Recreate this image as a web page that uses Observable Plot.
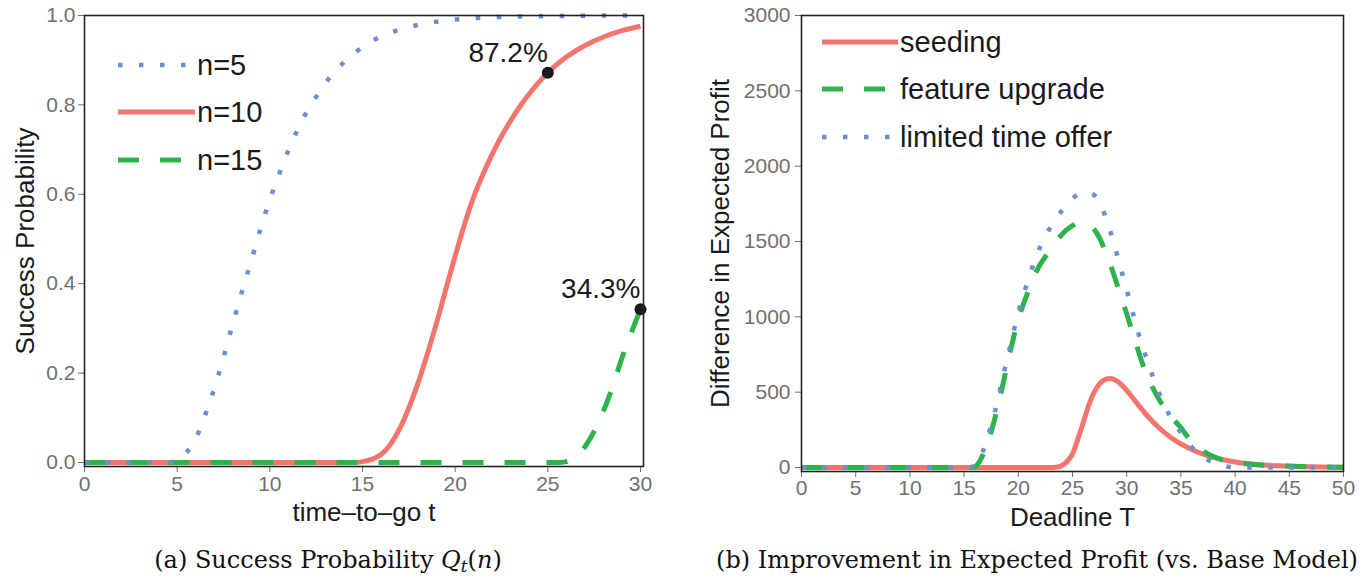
<!DOCTYPE html>
<html><head><meta charset="utf-8">
<script src="https://cdn.jsdelivr.net/npm/d3@7"></script>
<script src="https://cdn.jsdelivr.net/npm/@observablehq/plot@0.6"></script>
<style>
body{margin:0;background:#fff;}
#wrap{position:relative;width:1370px;height:585px;overflow:hidden;font-family:"Liberation Sans",Arial,sans-serif;}
.panel{position:absolute;top:0;}
.overlay{position:absolute;left:0;top:0;pointer-events:none;}
.caption{position:absolute;font-family:"DejaVu Serif",serif;font-size:24px;line-height:1;color:#111;white-space:nowrap;transform:translateX(-50%);}
.caption sub{font-size:0.7em;vertical-align:-0.25em;line-height:0;}
</style></head><body><div id="wrap"></div>
<script>
// ---------- Panel (a): success probability Q_t(n) ----------
const tN5  = [0, 4.5, 5, 5.5, 6, 6.5, 7, 7.5, 8, 8.5, 9, 9.5, 10, 10.5, 11, 11.5, 12, 12.5, 13, 13.5, 14, 15, 16, 17, 18, 19, 20, 21, 22, 24, 26, 28, 30];
const qN5  = [0, 0, 0.006, 0.022, 0.053, 0.105, 0.165, 0.235, 0.31, 0.383, 0.452, 0.523, 0.588, 0.645, 0.698, 0.745, 0.785, 0.818, 0.849, 0.873, 0.896, 0.929, 0.953, 0.968, 0.979, 0.986, 0.991, 0.994, 0.996, 0.998, 0.999, 1.0, 1.0];
const tN10 = [0, 14.5, 15, 15.5, 16, 16.5, 17, 17.5, 18, 18.5, 19, 19.5, 20, 20.5, 21, 21.5, 22, 22.5, 23, 23.5, 24, 24.5, 25, 25.5, 26, 27, 28, 29, 30];
const qN10 = [0, 0, 0.002, 0.007, 0.018, 0.04, 0.075, 0.122, 0.178, 0.243, 0.313, 0.388, 0.462, 0.532, 0.594, 0.645, 0.69, 0.73, 0.765, 0.797, 0.825, 0.85, 0.872, 0.891, 0.907, 0.933, 0.952, 0.966, 0.976];
const tN15 = [0, 25.5, 26, 26.5, 27, 27.5, 28, 28.5, 29, 29.5, 30];
const qN15 = [0, 0, 0.002, 0.012, 0.035, 0.07, 0.115, 0.17, 0.234, 0.29, 0.343];
const annotT = [25, 30];
const annotQ = [0.872, 0.343];
const leftNames = ["n=5", "n=10", "n=15"];
const leftTicksX = [0, 5, 10, 15, 20, 25, 30];
const leftTicksY = [0, 0.2, 0.4, 0.6, 0.8, 1.0];
const leftXTitle = "time\u2013to\u2013go t";
const leftYTitle = "Success Probability";

// ---------- Panel (b): improvement in expected profit ----------
const tSeed = [0, 23, 23.5, 24, 24.5, 25, 25.5, 26, 26.5, 27, 27.5, 28, 28.5, 29, 29.5, 30, 30.5, 31, 32, 33, 34, 35, 36, 37, 38, 39, 40, 42, 44, 46, 48, 50];
const vSeed = [0, 0, 2, 12, 40, 90, 190, 300, 415, 500, 555, 583, 590, 578, 550, 512, 468, 422, 335, 262, 203, 157, 120, 90, 67, 50, 37, 20, 11, 6, 3, 2];
const tFeat = [0, 15.5, 16, 16.5, 17, 17.5, 18, 18.5, 19, 19.5, 20, 20.5, 21, 21.5, 22, 22.5, 23, 23.5, 24, 24.5, 25, 25.5, 26, 26.5, 27, 27.5, 28, 28.5, 29, 29.5, 30, 30.5, 31, 31.5, 32, 32.5, 33, 33.5, 34, 34.5, 35, 35.5, 36, 36.5, 37, 37.5, 38, 38.5, 39, 40, 41, 42, 44, 46, 48, 50];
const vFeat = [0, 0, 5, 50, 130, 240, 370, 525, 690, 844, 985, 1090, 1185, 1275, 1345, 1400, 1455, 1505, 1545, 1580, 1605, 1622, 1625, 1610, 1580, 1522, 1440, 1345, 1240, 1130, 1020, 905, 790, 680, 590, 515, 450, 395, 350, 305, 265, 215, 175, 140, 112, 90, 72, 58, 47, 33, 25, 19, 11, 6, 3, 2];
const tLto  = [0, 15.5, 16, 16.5, 17, 17.5, 18, 18.5, 19, 19.5, 20, 20.5, 21, 21.5, 22, 22.5, 23, 23.5, 24, 24.5, 25, 25.5, 26, 26.5, 27, 27.5, 28, 28.5, 29, 29.5, 30, 30.5, 31, 31.5, 32, 32.5, 33, 33.5, 34, 34.5, 35, 35.5, 36, 36.5, 37, 37.5, 38, 38.5, 39, 39.5, 40, 50];
const vLto  = [0, 0, 15, 70, 160, 280, 415, 575, 730, 880, 1030, 1150, 1265, 1370, 1462, 1535, 1598, 1650, 1703, 1745, 1785, 1812, 1825, 1825, 1808, 1760, 1673, 1565, 1442, 1310, 1180, 1045, 910, 795, 690, 585, 492, 410, 340, 280, 230, 178, 135, 100, 72, 50, 33, 20, 10, 3, 0, 0];
const rightNames = ["seeding", "feature upgrade", "limited time offer"];
const rightTicksX = [0, 5, 10, 15, 20, 25, 30, 35, 40, 45, 50];
const rightTicksY = [0, 500, 1000, 1500, 2000, 2500, 3000];
const rightXTitle = "Deadline T";
const rightYTitle = "Difference in Expected Profit";

const captionA = '(a) Success Probability <i>Q</i><sub><i>t</i></sub>(<i>n</i>)';
const captionB = '(b) Improvement in Expected Profit (vs. Base Model)';

// ---------- styles ----------
const RED = "#F4756D", GREEN = "#2DB34B", BLUE = "#6B8FCF";
const INK = "#1a1a1a", TICK = "#707070";
const FONT = '"Liberation Sans", Arial, sans-serif';
const STY = {
  solid:  {strokeWidth: 5},
  dashed: {strokeWidth: 5, strokeDasharray: "21,21"},
  dotted: {strokeWidth: 4.5, strokeDasharray: "4.5,16.5"}
};

const rows = (xs, ys) => xs.map((x, i) => ({x, y: ys[i]}));
const lineMark = (data, color, kind) => Plot.line(data, {x: "x", y: "y", stroke: color, curve: "monotone-x", strokeLinecap: "butt", strokeLinejoin: "round", ...STY[kind]});

function panel({width, height, mL, mR, mT, mB, insetRight, xDomain, yDomain, ticksX, ticksY, fmtY, series, annot, xTitle, yTitle, yTitleDx, tickPadY, tickPadX}) {
  const marks = [
    Plot.axisX({ticks: ticksX, tickSize: 6, tickPadding: tickPadX, color: TICK, label: null, fontSize: 21}),
    Plot.axisY({ticks: ticksY, tickSize: 6, tickPadding: tickPadY, tickFormat: fmtY, color: TICK, label: null, fontSize: 21}),
    ...series.map(s => lineMark(s.data, s.color, s.kind)),
  ];
  if (annot) {
    marks.push(Plot.dot(annot, {x: "x", y: "y", r: 6, fill: INK, stroke: "none"}));
    marks.push(Plot.text(annot, {x: "x", y: "y", text: d => d3.format(".1%")(d.y), textAnchor: "end", dy: -20, fontSize: 28, fill: INK}));
  }
  marks.push(Plot.frame({stroke: "#222", strokeWidth: 1.6}));
  marks.push(Plot.text([xTitle], {text: d => d, frameAnchor: "bottom", dy: 46, fontSize: 26, fill: INK, textAnchor: "middle", lineAnchor: "middle"}));
  marks.push(Plot.text([yTitle], {text: d => d, frameAnchor: "left", dx: yTitleDx, rotate: -90, fontSize: 26, fill: INK, textAnchor: "middle", lineAnchor: "middle"}));
  return Plot.plot({
    width, height, marginLeft: mL, marginRight: mR, marginTop: mT, marginBottom: mB,
    insetBottom: 4, insetRight,
    x: {domain: xDomain}, y: {domain: yDomain},
    style: {fontFamily: FONT, fontSize: "21px", background: "transparent", overflow: "visible"},
    marks
  });
}

const wrap = document.getElementById("wrap");

const leftSeries = [
  {data: rows(tN10, qN10), color: RED, kind: "solid"},
  {data: rows(tN15, qN15), color: GREEN, kind: "dashed"},
  {data: rows(tN5, qN5), color: BLUE, kind: "dotted"}
];
const leftPlot = panel({
  width: 685, height: 540, mL: 84, mR: 42, mT: 15, mB: 74, insetRight: 3,
  xDomain: [0, 30], yDomain: [0, 1], ticksX: leftTicksX, ticksY: leftTicksY, fmtY: ".1f",
  series: leftSeries, annot: rows(annotT, annotQ),
  xTitle: leftXTitle, yTitle: leftYTitle, yTitleDx: -59, tickPadY: 3, tickPadX: 4
});
leftPlot.classList.add("panel"); leftPlot.style.left = "0px";
wrap.appendChild(leftPlot);

const rightSeries = [
  {data: rows(tSeed, vSeed), color: RED, kind: "solid"},
  {data: rows(tFeat, vFeat), color: GREEN, kind: "dashed"},
  {data: rows(tLto, vLto), color: BLUE, kind: "dotted"}
];
const rightPlot = panel({
  width: 685, height: 540, mL: 116, mR: 27, mT: 15, mB: 69, insetRight: 0,
  xDomain: [0, 50], yDomain: [0, 3000], ticksX: rightTicksX, ticksY: rightTicksY, fmtY: "d",
  series: rightSeries, annot: null,
  xTitle: rightXTitle, yTitle: rightYTitle, yTitleDx: -81, tickPadY: 5, tickPadX: 3
});
rightPlot.classList.add("panel"); rightPlot.style.left = "685px";
wrap.appendChild(rightPlot);

// ---------- legends (inside panels) ----------
const ov = d3.select(wrap).append("svg").attr("class", "overlay").attr("width", 1370).attr("height", 585)
  .style("font-family", FONT);
function legend(names, styles, x0, x1, ys) {
  names.forEach((name, i) => {
    const s = styles[i], st = STY[s.kind];
    ov.append("line").attr("x1", x0).attr("x2", x1).attr("y1", ys[i]).attr("y2", ys[i])
      .attr("stroke", s.color).attr("stroke-width", st.strokeWidth)
      .attr("stroke-dasharray", st.strokeDasharray || null);
    ov.append("text").attr("x", x1 + 2).attr("y", ys[i]).attr("dy", "0.35em")
      .attr("font-size", 29).attr("fill", INK).text(name);
  });
}
legend(leftNames, [{color: BLUE, kind: "dotted"}, {color: RED, kind: "solid"}, {color: GREEN, kind: "dashed"}], 118, 195, [65, 112, 160]);
legend(rightNames, [{color: RED, kind: "solid"}, {color: GREEN, kind: "dashed"}, {color: BLUE, kind: "dotted"}], 822, 898, [42, 89, 137]);

// ---------- captions ----------
function caption(html, cx) {
  const d = document.createElement("div");
  d.className = "caption"; d.innerHTML = html;
  d.style.left = cx + "px"; d.style.top = "548px";
  wrap.appendChild(d);
}
caption(captionA, 328);
caption(captionB, 1037);
</script>
</body></html>
